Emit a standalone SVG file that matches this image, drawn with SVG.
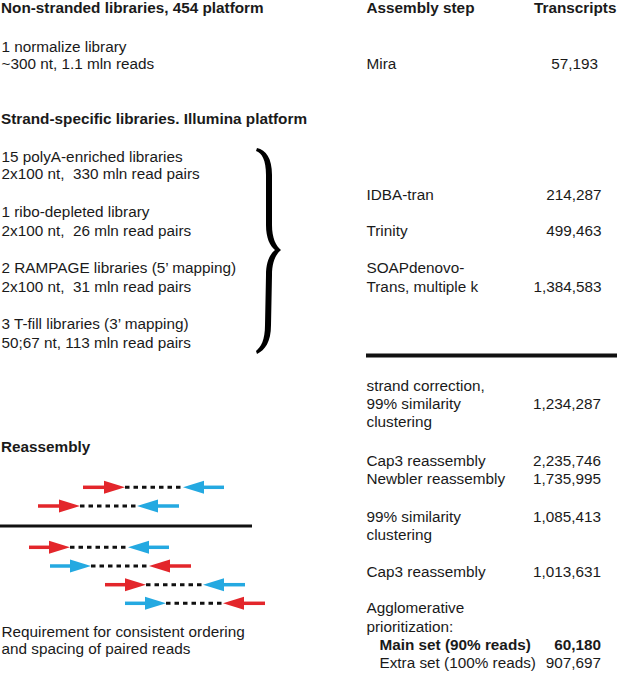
<svg xmlns="http://www.w3.org/2000/svg" width="617" height="675" viewBox="0 0 617 675">
<style>
text{font-family:"Liberation Sans",Arial,sans-serif;font-size:15.3px;fill:#1a1a1a;white-space:pre}
.b{font-weight:bold}
.n{text-anchor:end}
.red{fill:#e3262b}
.blue{fill:#24a9e1}
.rs{stroke:#e3262b;stroke-width:3.5}
.bs{stroke:#24a9e1;stroke-width:3.5}
.dash{stroke:#111;stroke-width:3;stroke-dasharray:4.5 4}
.rule{stroke:#111;stroke-width:4}
</style>
<rect width="617" height="675" fill="#fff"/>
<g id="left-libraries">
<text class="b" x="1" y="12.7">Non-stranded libraries, 454 platform</text>
<text x="1.5" y="51.7">1 normalize library</text>
<text x="1.5" y="69.3">~300 nt, 1.1 mln reads</text>
<text class="b" x="1" y="124">Strand-specific libraries. Illumina platform</text>
<text x="1.5" y="161.7">15 polyA-enriched libraries</text>
<text x="1.5" y="179.3">2x100 nt,  330 mln read pairs</text>
<text x="1.5" y="217.3">1 ribo-depleted library</text>
<text x="1.5" y="235.7">2x100 nt,  26 mln read pairs</text>
<text x="1.5" y="273.3">2 RAMPAGE libraries (5’ mapping)</text>
<text x="1.5" y="291.7">2x100 nt,  31 mln read pairs</text>
<text x="1.5" y="329.3">3 T-fill libraries (3’ mapping)</text>
<text x="1.5" y="347.5">50;67 nt, 113 mln read pairs</text>
</g>
<g id="brace">
<path fill="#000" d="M257,148 C266,150 272,158 272,175 L272,225 C272,238 276,246 281,250 C276,254 272,262 272,275 L271,325 C271,342 265,350 257,354 L256,351 C261,347 265,340 265,325 L266,275 C266,262 270,254 275,250 C270,246 266,238 266,225 L266,175 C266,160 262,153 256,151 Z"/>
</g>
<g id="right-header">
<text class="b" x="366.5" y="13.3">Assembly step</text>
<text class="b" x="534" y="13.3">Transcripts</text>
</g>
<g id="step-mira">
<text x="366.5" y="69.3">Mira</text>
<text class="n" x="598" y="69.3">57,193</text>
</g>
<g id="step-idba">
<text x="366.5" y="200">IDBA-tran</text>
<text class="n" x="601.5" y="200">214,287</text>
</g>
<g id="step-trinity">
<text x="366.5" y="235.7">Trinity</text>
<text class="n" x="601.5" y="235.7">499,463</text>
</g>
<g id="step-soap">
<text x="366.5" y="273.3">SOAPdenovo-</text>
<text x="366.5" y="291.7">Trans, multiple k</text>
<text class="n" x="601.5" y="291.7">1,384,583</text>
</g>
<line class="rule" x1="366" y1="355.5" x2="617" y2="355.5"/>
<g id="step-strand">
<text x="366.5" y="390.7">strand correction,</text>
<text x="366.5" y="409">99% similarity</text>
<text x="366.5" y="427.3">clustering</text>
<text class="n" x="601" y="409">1,234,287</text>
</g>
<g id="step-cap3-newbler">
<text x="366.5" y="465.7">Cap3 reassembly</text>
<text class="n" x="601" y="465.7">2,235,746</text>
<text x="366.5" y="484">Newbler reassembly</text>
<text class="n" x="601" y="484">1,735,995</text>
</g>
<g id="step-cluster">
<text x="366.5" y="521.7">99% similarity</text>
<text x="366.5" y="540">clustering</text>
<text class="n" x="601" y="521.7">1,085,413</text>
</g>
<g id="step-cap3">
<text x="366.5" y="577.3">Cap3 reassembly</text>
<text class="n" x="601" y="577.3">1,013,631</text>
</g>
<g id="step-agglomerative">
<text x="366.5" y="613.3">Agglomerative</text>
<text x="366.5" y="632">prioritization:</text>
<text class="b" x="379.5" y="650">Main set (90% reads)</text>
<text class="b n" x="601" y="650">60,180</text>
<text x="379.5" y="668.3">Extra set (100% reads)</text>
<text class="n" x="601" y="668.3">907,697</text>
</g>
<g id="reassembly">
<text class="b" x="1" y="452">Reassembly</text>
<line x1="0" y1="526" x2="252" y2="526" stroke="#111" stroke-width="3.2"/>
<!-- row 1 -->
<line class="dash" x1="125" y1="487.3" x2="183" y2="487.3"/>
<line class="rs" x1="83" y1="487.3" x2="106" y2="487.3"/><polygon class="red" points="104,480.8 125,487.3 104,493.8"/>
<line class="bs" x1="202" y1="487.3" x2="224" y2="487.3"/><polygon class="blue" points="204,480.8 183,487.3 204,493.8"/>
<!-- row 2 -->
<line class="dash" x1="80" y1="506" x2="137" y2="506"/>
<line class="rs" x1="38" y1="506" x2="61" y2="506"/><polygon class="red" points="59,499.5 80,506 59,512.5"/>
<line class="bs" x1="156" y1="506" x2="179" y2="506"/><polygon class="blue" points="158,499.5 137,506 158,512.5"/>
<!-- row 3 -->
<line class="dash" x1="70" y1="547.3" x2="128" y2="547.3"/>
<line class="rs" x1="29" y1="547.3" x2="51" y2="547.3"/><polygon class="red" points="49,540.8 70,547.3 49,553.8"/>
<line class="bs" x1="147" y1="547.3" x2="169" y2="547.3"/><polygon class="blue" points="149,540.8 128,547.3 149,553.8"/>
<!-- row 4 -->
<line class="dash" x1="91" y1="566" x2="149" y2="566"/>
<line class="bs" x1="50" y1="566" x2="72" y2="566"/><polygon class="blue" points="70,559.5 91,566 70,572.5"/>
<line class="rs" x1="168" y1="566" x2="191" y2="566"/><polygon class="red" points="170,559.5 149,566 170,572.5"/>
<!-- row 5 -->
<line class="dash" x1="146" y1="584.7" x2="203" y2="584.7"/>
<line class="rs" x1="105" y1="584.7" x2="127" y2="584.7"/><polygon class="red" points="125,578.2 146,584.7 125,591.2"/>
<line class="bs" x1="222" y1="584.7" x2="245" y2="584.7"/><polygon class="blue" points="224,578.2 203,584.7 224,591.2"/>
<!-- row 6 -->
<line class="dash" x1="166" y1="603.3" x2="223" y2="603.3"/>
<line class="bs" x1="125" y1="603.3" x2="147" y2="603.3"/><polygon class="blue" points="145,596.8 166,603.3 145,609.8"/>
<line class="rs" x1="242" y1="603.3" x2="265" y2="603.3"/><polygon class="red" points="244,596.8 223,603.3 244,609.8"/>
<text x="1.5" y="637.3">Requirement for consistent ordering</text>
<text x="1.5" y="654">and spacing of paired reads</text>
</g>
</svg>
